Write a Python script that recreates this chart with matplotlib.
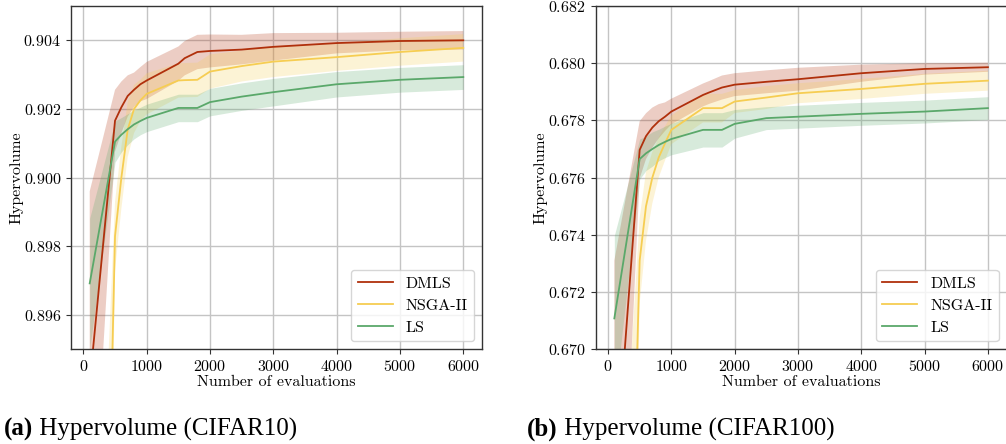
import numpy as np
import matplotlib
matplotlib.use('Agg')
import matplotlib.pyplot as plt

plt.rcParams['font.family'] = ['cmr10', 'DejaVu Serif']
plt.rcParams['mathtext.fontset'] = 'cm'
plt.rcParams['axes.formatter.use_mathtext'] = True
plt.rcParams['axes.unicode_minus'] = False

# number of evaluations
evals = [100, 500, 600, 700, 800, 900, 1000, 1500, 1600, 1800, 2000, 2500, 3000, 4000, 5000, 6000]

# CIFAR10 hypervolume (mean, std)
dmls_c10 = [0.8940, 0.90166, 0.90205, 0.90238, 0.90256, 0.90272, 0.90283, 0.90332, 0.90348, 0.90366,
            0.90369, 0.90373, 0.90381, 0.90392, 0.90398, 0.90400]
dmls_c10_sd = [0.0056, 0.0009, 0.00075, 0.0006, 0.0005, 0.0005, 0.00054, 0.0005, 0.0005, 0.0005,
               0.00048, 0.00043, 0.0004, 0.0003, 0.00027, 0.00027]
nsga_c10 = [0.866, 0.8983, 0.9000, 0.9014, 0.9020, 0.90225, 0.90244, 0.90283, 0.90284, 0.90285,
            0.90309, 0.90325, 0.90338, 0.90351, 0.90366, 0.90378]
nsga_c10_sd = [0.016, 0.001, 0.0009, 0.0008, 0.0007, 0.0006, 0.0006, 0.0005, 0.0005, 0.0005,
               0.0005, 0.00045, 0.00045, 0.0004, 0.0004, 0.0004]
ls_c10 = [0.89692, 0.90105, 0.90125, 0.90141, 0.90155, 0.90165, 0.90174, 0.90203, 0.90203, 0.90203,
          0.90220, 0.90236, 0.90249, 0.90272, 0.90285, 0.90293]
ls_c10_sd = [0.0019, 0.0006, 0.0005, 0.00045, 0.00042, 0.0004, 0.0004, 0.0004, 0.0004, 0.0004,
             0.0004, 0.0004, 0.0004, 0.00037, 0.00036, 0.00036]

# CIFAR100 hypervolume (mean, std)
dmls_c100 = [0.6651, 0.67697, 0.67745, 0.67775, 0.67797, 0.67813, 0.67831, 0.67889, 0.67898, 0.67915,
             0.67925, 0.67935, 0.67944, 0.67965, 0.67980, 0.67986]
dmls_c100_sd = [0.008, 0.001, 0.0008, 0.0007, 0.0006, 0.0005, 0.00045, 0.0004, 0.0004, 0.00042,
                0.0004, 0.0004, 0.0004, 0.0003, 0.0002, 0.00016]
nsga_c100 = [0.640, 0.6731, 0.6750, 0.6760, 0.6767, 0.6772, 0.67767, 0.67843, 0.67843, 0.67843,
             0.67866, 0.67880, 0.67895, 0.67910, 0.67928, 0.67939]
nsga_c100_sd = [0.02, 0.0015, 0.0012, 0.0009, 0.0007, 0.0006, 0.0005, 0.0005, 0.0005, 0.0005,
                0.0004, 0.0004, 0.00035, 0.00035, 0.00035, 0.00035]
ls_c100 = [0.67108, 0.67665, 0.67685, 0.67700, 0.67714, 0.67725, 0.67735, 0.67767, 0.67767, 0.67767,
           0.67788, 0.67808, 0.67813, 0.67823, 0.67831, 0.67843]
ls_c100_sd = [0.0029, 0.0007, 0.0006, 0.0006, 0.00055, 0.00055, 0.00055, 0.0006, 0.0006, 0.0006,
              0.0005, 0.0004, 0.0004, 0.0004, 0.0004, 0.0004]

labels = ['DMLS', 'NSGA-II', 'LS']
colors = ['#b0300c', '#f6cd52', '#5aa86a']
captions = [('(a)', ' Hypervolume (CIFAR10)'), ('(b)', ' Hypervolume (CIFAR100)')]

fig = plt.figure(figsize=(10.06, 4.44), dpi=100)
ax1 = fig.add_axes([0.0706, 0.2133, 0.4085, 0.7732])
ax2 = fig.add_axes([0.5921, 0.2133, 0.4085, 0.7732])

x = np.array(evals)
panels = [
    (ax1, [(dmls_c10, dmls_c10_sd), (nsga_c10, nsga_c10_sd), (ls_c10, ls_c10_sd)],
     (0.895, 0.905), np.arange(0.896, 0.9045, 0.002)),
    (ax2, [(dmls_c100, dmls_c100_sd), (nsga_c100, nsga_c100_sd), (ls_c100, ls_c100_sd)],
     (0.670, 0.682), np.arange(0.670, 0.6825, 0.002)),
]

for ax, series, ylim, yticks in panels:
    for (m, s), lab, c in zip(series, labels, colors):
        m = np.array(m)
        s = np.array(s)
        ax.fill_between(x, m - s, m + s, color=c, alpha=0.24, linewidth=0)
        ax.plot(x, m, color=c, lw=1.3, label=lab)
    ax.set_ylim(*ylim)
    ax.set_yticks(yticks)
    ax.set_xticks(range(0, 6001, 1000))
    ax.grid(True, color='#c4c4c4', linewidth=1.0)
    ax.set_axisbelow(True)
    ax.tick_params(labelsize=11.5, length=3.5, width=0.8, color='#333333')
    for sp in ax.spines.values():
        sp.set_color('#333333')
        sp.set_linewidth(1.0)
    ax.set_xlabel('Number of evaluations', fontsize=11.5, labelpad=1)
    ax.set_ylabel('Hypervolume', fontsize=11.5, labelpad=0)
    ax.legend(loc='lower right', fontsize=11.5, handlelength=2.2, framealpha=0.8)

# sub-figure captions: bold label followed by normal text
renderer = fig.canvas.get_renderer()
for (tag, rest), x0 in zip(captions, [0.004, 0.524]):
    t = fig.text(x0, 0.02, tag, fontsize=18, family='Liberation Serif', weight='bold', va='baseline')
    bb = t.get_window_extent(renderer)
    fig.text(bb.x1 / fig.bbox.width, 0.02, rest, fontsize=18, family='Liberation Serif', va='baseline')

fig.savefig('out.png', dpi=100)
